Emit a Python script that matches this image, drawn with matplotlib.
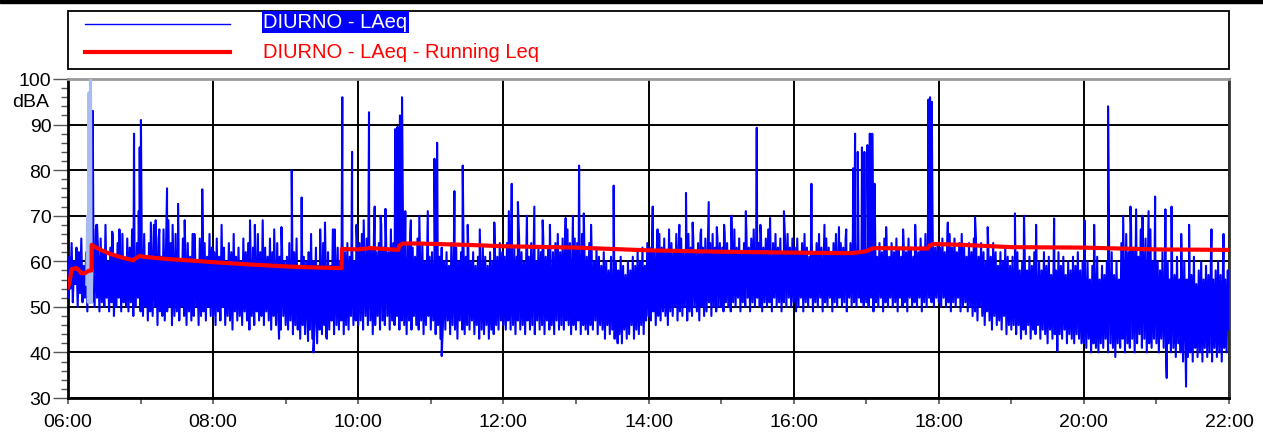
import numpy as np
import matplotlib.pyplot as plt
from matplotlib.patches import Rectangle
from matplotlib.lines import Line2D

plt.rcParams['font.family'] = ['Liberation Sans', 'DejaVu Sans']

# LAeq, one value per minute (low / high), one list per hour
h06 = [52, 61, 54, 64, 51, 60, 55, 63, 50, 62, 53, 65, 51, 59, 52, 62, 49, 64, 53, 60,
       51, 63, 50, 67, 52, 61, 49, 65, 51, 62, 50, 68, 52, 60, 49, 63, 51, 66, 48, 61,
       50, 64, 52, 62, 49, 66, 51, 60, 50, 65, 49, 63, 51, 67, 48, 61, 50, 64, 52, 62]
h07 = [49, 63, 48, 66, 50, 61, 47, 64, 49, 62, 48, 68, 50, 63, 46, 65, 49, 61, 48, 67,
       47, 62, 49, 69, 50, 64, 46, 61, 48, 66, 49, 63, 47, 60, 50, 65, 48, 62, 46, 64,
       49, 61, 47, 66, 48, 63, 50, 60, 46, 65, 48, 62, 49, 64, 47, 61, 50, 66, 48, 63]
h08 = [48, 62, 46, 65, 49, 61, 47, 68, 50, 63, 46, 60, 48, 64, 47, 62, 45, 66, 49, 61,
       47, 63, 48, 60, 46, 65, 49, 62, 47, 64, 45, 61, 48, 63, 46, 60, 49, 66, 47, 62,
       48, 69, 46, 63, 49, 61, 47, 65, 45, 62, 48, 60, 46, 64, 47, 61, 45, 63, 48, 60]
h09 = [46, 61, 45, 64, 47, 60, 44, 62, 46, 65, 45, 59, 43, 63, 46, 61, 44, 60, 47, 62,
       45, 66, 43, 60, 46, 63, 42, 59, 45, 61, 44, 64, 46, 60, 43, 62, 45, 59, 47, 67,
       44, 61, 46, 63, 45, 60, 47, 65, 44, 62, 46, 64, 45, 61, 48, 63, 46, 60, 47, 65]
h10 = [46, 64, 47, 66, 45, 62, 48, 65, 46, 67, 47, 63, 44, 66, 46, 62, 48, 64, 45, 68,
       47, 63, 46, 65, 48, 62, 45, 67, 47, 64, 46, 66, 48, 63, 45, 65, 47, 68, 46, 62,
       44, 64, 47, 66, 45, 63, 48, 61, 46, 65, 45, 62, 47, 64, 44, 60, 46, 63, 48, 61]
h11 = [45, 62, 47, 60, 44, 64, 46, 61, 43, 63, 46, 60, 45, 62, 47, 59, 44, 64, 46, 61,
       45, 63, 43, 60, 47, 62, 45, 65, 44, 61, 46, 63, 45, 60, 47, 62, 44, 59, 46, 61,
       43, 60, 45, 63, 44, 61, 46, 59, 43, 62, 45, 60, 44, 63, 46, 61, 45, 64, 47, 62]
h12 = [46, 61, 45, 64, 47, 62, 45, 60, 46, 63, 44, 61, 47, 65, 45, 62, 46, 60, 44, 63,
       47, 61, 45, 64, 46, 62, 44, 60, 47, 63, 45, 62, 46, 65, 44, 61, 47, 63, 45, 60,
       46, 62, 44, 64, 47, 66, 45, 62, 46, 65, 45, 63, 47, 67, 46, 64, 44, 62, 46, 65]
h13 = [45, 64, 47, 62, 44, 66, 46, 63, 45, 61, 44, 64, 46, 62, 45, 60, 47, 63, 44, 61,
       46, 59, 45, 62, 43, 60, 46, 58, 44, 61, 45, 57, 43, 60, 46, 58, 44, 61, 42, 59,
       45, 57, 43, 60, 44, 58, 46, 61, 43, 59, 45, 62, 44, 60, 46, 63, 44, 59, 47, 64]
h14 = [48, 63, 47, 65, 49, 62, 46, 64, 48, 66, 47, 63, 49, 65, 48, 62, 46, 67, 49, 64,
       48, 62, 50, 66, 47, 63, 49, 65, 48, 62, 50, 64, 47, 66, 49, 63, 48, 65, 50, 62,
       49, 64, 47, 66, 50, 63, 48, 65, 49, 62, 51, 64, 48, 66, 50, 63, 49, 65, 50, 64]
h15 = [50, 63, 49, 66, 51, 64, 50, 62, 49, 65, 51, 67, 50, 63, 52, 65, 49, 62, 51, 64,
       50, 66, 52, 63, 49, 65, 51, 67, 50, 63, 52, 64, 50, 66, 49, 63, 51, 65, 50, 67,
       51, 62, 49, 64, 52, 66, 50, 63, 51, 65, 49, 62, 51, 64, 50, 66, 52, 63, 50, 65]
h16 = [51, 63, 49, 65, 50, 62, 52, 64, 49, 66, 51, 63, 50, 61, 52, 65, 49, 62, 51, 64,
       50, 66, 52, 63, 49, 61, 51, 65, 50, 63, 52, 62, 49, 64, 51, 66, 50, 62, 52, 64,
       50, 63, 51, 65, 49, 62, 52, 64, 50, 66, 51, 63, 50, 65, 52, 62, 51, 64, 50, 63]
h17 = [51, 64, 50, 62, 52, 65, 49, 63, 51, 61, 50, 64, 52, 62, 49, 65, 51, 63, 50, 61,
       52, 64, 50, 62, 51, 65, 49, 63, 52, 61, 50, 64, 51, 62, 49, 65, 52, 63, 50, 61,
       51, 64, 50, 62, 52, 65, 49, 63, 51, 66, 50, 64, 52, 62, 51, 65, 50, 63, 52, 64]
h18 = [51, 63, 50, 65, 52, 62, 50, 64, 51, 66, 49, 63, 51, 65, 50, 62, 52, 64, 49, 66,
       50, 63, 51, 61, 49, 64, 50, 62, 48, 65, 49, 63, 47, 61, 50, 64, 48, 62, 46, 60,
       49, 63, 47, 61, 45, 64, 48, 62, 46, 59, 47, 62, 45, 60, 48, 63, 44, 61, 46, 59]
h19 = [45, 61, 46, 59, 44, 62, 46, 58, 43, 60, 45, 63, 44, 58, 46, 61, 43, 59, 45, 62,
       44, 57, 46, 60, 43, 58, 45, 62, 44, 59, 42, 61, 45, 57, 43, 60, 44, 58, 42, 62,
       44, 59, 43, 61, 45, 57, 42, 60, 44, 58, 43, 61, 42, 59, 44, 62, 43, 58, 42, 60]
h20 = [42, 57, 41, 60, 43, 56, 40, 59, 42, 58, 41, 61, 40, 56, 42, 59, 41, 57, 43, 60,
       40, 58, 42, 62, 41, 57, 39, 60, 42, 56, 41, 64, 43, 60, 40, 66, 42, 62, 41, 68,
       43, 63, 40, 66, 42, 61, 44, 67, 41, 63, 43, 65, 40, 62, 42, 67, 41, 60, 43, 64]
h21 = [42, 60, 40, 58, 43, 62, 41, 57, 39, 60, 42, 56, 40, 59, 41, 57, 39, 61, 42, 56,
       40, 58, 38, 60, 41, 56, 39, 59, 40, 57, 38, 61, 41, 55, 39, 58, 40, 60, 38, 56,
       41, 59, 39, 57, 40, 60, 38, 56, 41, 58, 39, 60, 40, 57, 38, 59, 41, 56, 40, 58]
last_level = 45

# short events (minutes after 06:00, dBA)
event_min = [20.5, 24, 54.6, 58.5, 59.3, 60.3, 81.9, 91, 111, 185, 193.2, 203, 226.8, 234.9,
             248.9, 253.6, 270.5, 272.5, 274.5, 276.2, 278.9, 303, 305.2, 309, 319.5, 326.4,
             366.9, 372, 385.6, 422.6, 451.2, 454.5, 483.5, 511, 529.8, 569.5, 592, 614.7,
             649.2, 650.8, 653, 656.5, 658.5, 661, 663, 665, 667, 711.5, 712.8, 714.2,
             750, 783, 815.4, 818, 860, 883.2, 898.9, 907.4, 908.5, 924.5, 927]
event_db = [93, 68, 88, 71, 85, 91, 76, 72.6, 75.8, 80, 74, 40, 96, 84,
            92.7, 72, 89, 89.5, 92, 96, 71, 82.5, 86, 39.2, 75.4, 81,
            77, 73, 72, 81, 76.6, 42, 72, 75, 73, 89.3, 71, 77,
            80.4, 88, 84, 85, 84, 85.5, 88, 88, 77, 95.5, 96, 95,
            69.6, 70.5, 69.4, 40.3, 94, 71.4, 74.2, 71.4, 34.4, 32.5, 68]

# smaller peaks and dips along the band
minor_min = [23.5, 36.5, 42.5, 68.5, 72.5, 75.5, 86.5, 96.5, 104.5, 150.5, 154.5, 170.5, 174.5,
             176.5, 198.5, 208.5, 212.5, 213.5, 220.5, 238.5, 244.5, 258.5, 262.5, 283.5, 290.5,
             297.5, 330.5, 340.5, 352.5, 364.5, 379.5, 392.5, 398.5, 411.5, 417.5, 426.5, 432.5,
             487.5, 505.5, 516.5, 523.5, 536.5, 542.5, 548.5, 560.5, 572.5, 580.5, 625.5, 637.5,
             643.5, 676.5, 690.5, 700.5, 727.5, 760.5, 790.5, 800.5, 840.5, 848.5, 872.5, 878.5,
             888.5, 893.5, 912.5, 920.5, 945.5, 955.5]
minor_db = [68, 66.5, 67, 68.5, 69, 67, 68, 69, 66, 69, 68, 67, 43,
            67.5, 42.5, 67, 68.5, 43.5, 67, 68, 69, 70, 71.5, 69, 70,
            71, 68, 67, 68.5, 71, 70, 69, 68, 69.5, 70, 70.5, 68,
            67, 68, 68.5, 67, 67.5, 68, 70, 71, 68, 69.5, 68, 67.5,
            67, 67.5, 67, 68, 68.5, 67.5, 70, 68, 69, 68, 70, 72,
            70, 71, 72, 66, 67, 66]

# marked (excluded) stretch around 06:17
sel_min = [15.5, 16.2, 16.8, 17.4, 18.0, 18.6, 19.2, 19.8]
sel_db = [55, 70, 51, 97, 51, 100, 51, 58]

# running Leq
leq_min = [0, 1, 3, 7, 9, 11, 14, 17, 19.5, 19.6, 22, 27, 35, 45, 54, 55, 59.5, 62, 82, 100,
           120, 150, 186, 210, 226.3, 226.4, 240, 250, 273, 274, 277, 290, 330, 360, 420, 480,
           540, 600, 640, 648, 655, 660, 665, 668, 700, 711, 712.5, 716, 740, 780, 840, 900, 960]
leq_db = [54.3, 55, 58.3, 58.5, 58, 57.4, 57.4, 57.9, 58, 63.6, 63.2, 62.5, 61.6, 60.8, 60.2, 60.5, 61.2, 61.0, 60.5, 60.2,
          59.8, 59.3, 58.8, 58.6, 58.5, 62.7, 62.6, 62.9, 62.5, 63.5, 63.9, 63.9, 63.6, 63.3, 63.0, 62.4,
          62.1, 61.9, 61.8, 61.8, 62.0, 62.2, 62.8, 62.9, 62.8, 62.8, 63.5, 63.8, 63.6, 63.1, 63.0, 62.6, 62.5]

hour_lists = [h06, h07, h08, h09, h10, h11, h12, h13, h14, h15, h16, h17, h18, h19, h20, h21]
base_db = [v for h in hour_lists for v in h] + [last_level]
base_min = list(range(len(base_db)))

t_all = np.array(base_min + event_min + minor_min, dtype=float)
v_all = np.array(base_db + event_db + minor_db, dtype=float)
order = np.argsort(t_all, kind='stable')
t_all = t_all[order]
v_all = v_all[order]

W, H = 1263, 435
fig = plt.figure(figsize=(W / 100, H / 100), dpi=100)
ax = fig.add_axes([68 / W, 1 - 399 / H, 1161 / W, 319 / H])

ax.plot(6 + t_all / 60, v_all, color='#0000ff', lw=1.5, zorder=3)
ax.plot(6 + np.array(sel_min) / 60, sel_db, color='#a9bcf2', lw=2.2, zorder=4)
ax.plot(6 + np.array(leq_min) / 60, leq_db, color='#ff0000', lw=3, zorder=5)

ax.set_xlim(6, 22)
ax.set_ylim(30, 100)
ax.set_xticks(range(6, 23, 2))
ax.set_xticklabels([f"{h:02d}:00" for h in range(6, 23, 2)])
ax.set_xticks(range(7, 22, 2), minor=True)
ax.set_yticks(range(30, 101, 10))
ax.set_yticks(range(30, 101, 2), minor=True)
ax.grid(which='major', color='black', lw=1.4)
ax.set_axisbelow(True)
ax.tick_params(axis='y', which='major', length=11, width=1, pad=1, labelsize=14, color='#555555')
ax.tick_params(axis='y', which='minor', length=5, width=1, color='#555555')
ax.tick_params(axis='x', which='both', length=4.5, width=1.2, pad=6, labelsize=14, color='#555555')

for side in ['left', 'bottom']:
    ax.spines[side].set_linewidth(2)
    ax.spines[side].set_color('black')
ax.spines['top'].set_color('#9a9a9a')
ax.spines['top'].set_linewidth(2)
ax.spines['right'].set_color('#333333')
ax.spines['right'].set_linewidth(2)

fig.text(49 / W, 1 - 103 / H, 'dBA', ha='right', va='center', size=14)

# legend box
fig.add_artist(Rectangle((68 / W, 1 - 70 / H), 1161 / W, 58 / H, transform=fig.transFigure,
                         fill=False, edgecolor='black', lw=1.3))
fig.add_artist(Line2D([85 / W, 230 / W], [1 - 25 / H, 1 - 25 / H], transform=fig.transFigure,
                      color='#0000ff', lw=1.0))
fig.add_artist(Line2D([85 / W, 230 / W], [1 - 53 / H, 1 - 53 / H], transform=fig.transFigure,
                      color='#ff0000', lw=3))
fig.text(263 / W, 1 - 23 / H, 'DIURNO - LAeq', ha='left', va='center', size=14.5, color='white',
         bbox=dict(facecolor='#0000ff', edgecolor='none', pad=1))
fig.text(263 / W, 1 - 53 / H, 'DIURNO - LAeq - Running Leq', ha='left', va='center', size=14.5,
         color='#ff0000')

# black bar along the top
fig.add_artist(Rectangle((0, 1 - 4 / H), 1, 4 / H, transform=fig.transFigure, color='black'))

fig.savefig('out.png', dpi=100)
